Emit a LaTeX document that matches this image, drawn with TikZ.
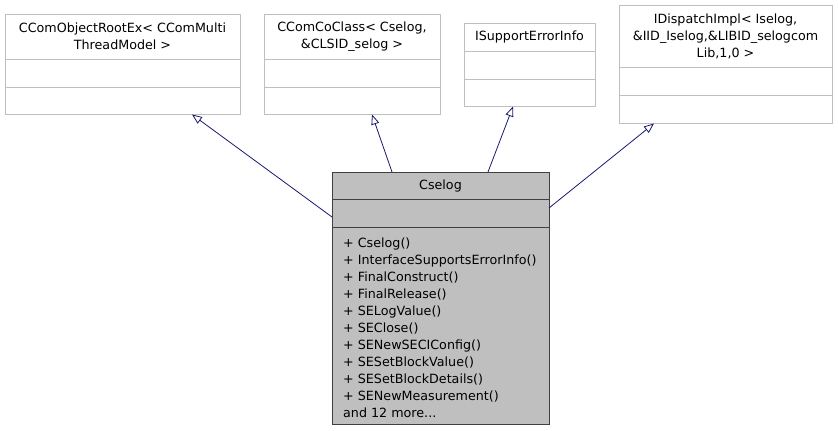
\documentclass[tikz,border=0pt]{standalone}
\usepackage{fontspec}
\setmainfont{DejaVu Sans}
\usetikzlibrary{arrows.meta}
\definecolor{edgeblue}{RGB}{25,25,112}
\definecolor{boxgray}{RGB}{191,191,191}
\definecolor{lightborder}{RGB}{191,191,191}
\definecolor{darkborder}{RGB}{64,64,64}
\tikzset{
  basebox/.style={draw=lightborder, fill=white, line width=0.8pt, inner sep=0pt},
  mainbox/.style={draw=darkborder, fill=boxgray, line width=1pt, inner sep=0pt},
  divlight/.style={draw=lightborder, line width=0.8pt},
  divdark/.style={draw=darkborder, line width=1pt},
  lbl/.style={inner sep=0pt, align=center, font=\fontsize{12.7}{17}\selectfont},
  inh/.style={draw=edgeblue, line width=0.8pt, -{Triangle[open, length=10pt, width=8pt, fill=white]}}
}
\begin{document}
\begin{tikzpicture}[x=1pt, y=-1pt]
\useasboundingbox (0,0) rectangle (838,431);
% base class 1
\node[basebox, minimum width=235pt, minimum height=100pt] (b1) at (122.5,64) {};
\draw[divlight] (5,59) -- (240,59);
\draw[divlight] (5,87) -- (240,87);
\node[lbl] (b1t) at (122.5,36.5) {CComObjectRootEx< CComMulti\\ThreadModel >};
% base class 2
\node[basebox, minimum width=176pt, minimum height=100pt] (b2) at (352,64) {};
\draw[divlight] (264,59) -- (440,59);
\draw[divlight] (264,87) -- (440,87);
\node[lbl] (b2t) at (352,36.5) {CComCoClass< Cselog,\\\&CLSID\_selog >};
% base class 3
\node[basebox, minimum width=131pt, minimum height=83pt] (b3) at (529.5,64.5) {};
\draw[divlight] (464,51) -- (595,51);
\draw[divlight] (464,79) -- (595,79);
\node[lbl] (b3t) at (529.5,37) {ISupportErrorInfo};
% base class 4
\node[basebox, minimum width=213pt, minimum height=118pt] (b4) at (725.5,64) {};
\draw[divlight] (619,67) -- (832,67);
\draw[divlight] (619,95) -- (832,95);
\node[lbl] (b4t) at (725.5,36.5) {IDispatchImpl< Iselog,\\\&IID\_Iselog,\&LIBID\_selogcom\\Lib,1,0 >};
% main class
\node[mainbox, minimum width=217pt, minimum height=252pt] (c) at (440.5,298) {};
\draw[divdark] (332,199) -- (549,199);
\draw[divdark] (332,227) -- (549,227);
\node[lbl] (ct) at (440.5,186) {Cselog};
\node[lbl, align=left, anchor=west] (cm) at (343,327.5) {+ Cselog()\\+ InterfaceSupportsErrorInfo()\\+ FinalConstruct()\\+ FinalRelease()\\+ SELogValue()\\+ SEClose()\\+ SENewSECIConfig()\\+ SESetBlockValue()\\+ SESetBlockDetails()\\+ SENewMeasurement()\\and 12 more...};
% edges
\coordinate (s1) at (332,217);
\coordinate (t1) at (192,114.5);
\coordinate (s2) at (392,172);
\coordinate (t2) at (372,114.5);
\coordinate (s3) at (488,172);
\coordinate (t3) at (513,106.5);
\coordinate (s4) at (549,208);
\coordinate (t4) at (654,123.5);
\draw[inh] (s1) -- (t1);
\draw[inh] (s2) -- (t2);
\draw[inh] (s3) -- (t3);
\draw[inh] (s4) -- (t4);
\end{tikzpicture}
\end{document}
